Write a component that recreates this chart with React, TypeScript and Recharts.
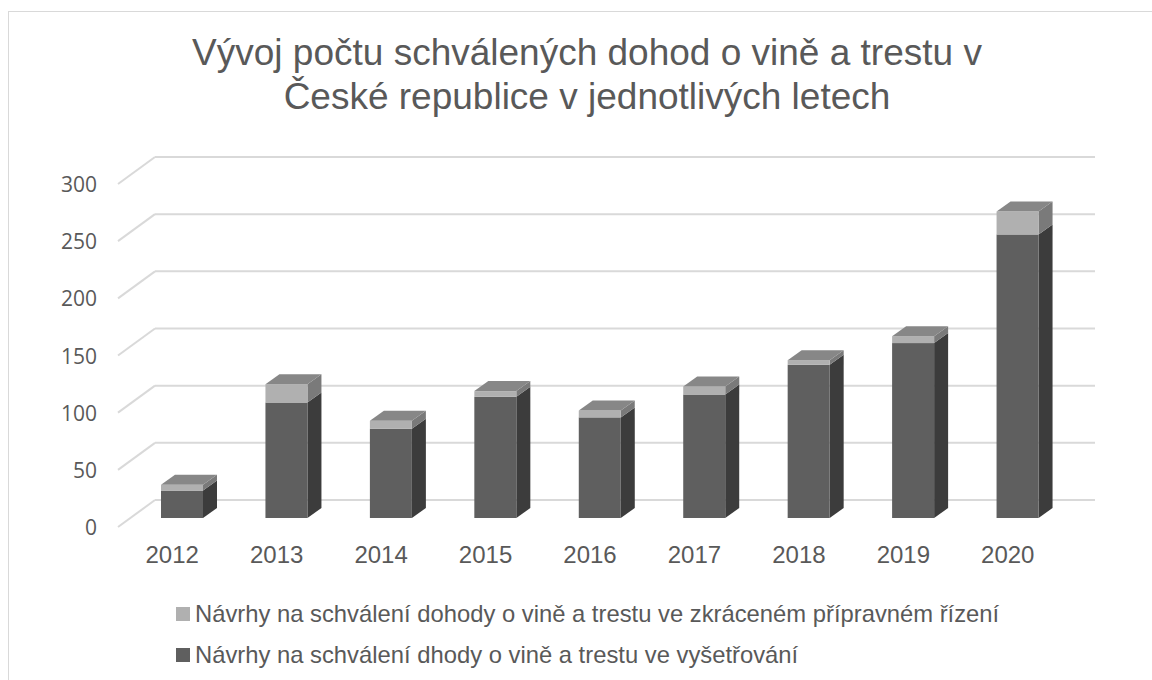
import { BarChart, Bar, XAxis, YAxis, CartesianGrid, Legend } from 'recharts'

const years = ['2012', '2013', '2014', '2015', '2016', '2017', '2018', '2019', '2020']
// návrhy ve vyšetřování (tmavá část)
const investigation = [24, 101, 78, 106, 88, 108, 134, 153, 248]
// návrhy ve zkráceném přípravném řízení (světlá část)
const shortened = [5, 16, 7, 5, 6, 7, 4, 6, 20]
const yTicks = [0, 50, 100, 150, 200, 250, 300]

const seriesNames = {
  shortened: 'Návrhy na schválení dohody o vině a trestu ve zkráceném přípravném řízení',
  investigation: 'Návrhy na schválení dhody o vině a trestu ve vyšetřování',
}

const data = years.map((year, i) => ({
  year,
  investigation: investigation[i],
  shortened: shortened[i],
}))

const FONT = '"Liberation Sans", Arial, sans-serif'
const TEXT = '#595959'
const GRID = '#d9d9d9'

// hloubka sloupce a posun zadní stěny / přední roviny
const DX = 14
const DY = -10
const BACK_DX = 25
const BACK_DY = -18
const FRONT_DX = -12
const FRONT_DY = 9

function makeBox(front: string, side: string, top: boolean) {
  return (props: any) => {
    const { x, y, width, height } = props
    if (!height || height <= 0) return <g />
    return (
      <g>
        <polygon
          points={`${x + width},${y} ${x + width + DX},${y + DY} ${x + width + DX},${y + height + DY} ${x + width},${y + height}`}
          fill={side}
        />
        <rect x={x} y={y} width={width} height={height} fill={front} />
        {top && (
          <polygon
            points={`${x},${y} ${x + DX},${y + DY} ${x + width + DX},${y + DY} ${x + width},${y}`}
            fill="#878787"
          />
        )}
      </g>
    )
  }
}

function GridLine(props: any) {
  const { x1, x2, y1 } = props
  return (
    <g key={props.key}>
      <line x1={x1 + FRONT_DX} y1={y1 + FRONT_DY} x2={x1 + BACK_DX} y2={y1 + BACK_DY} stroke={GRID} strokeWidth={2} />
      <line x1={x1 + BACK_DX} y1={y1 + BACK_DY} x2={x2 + BACK_DX} y2={y1 + BACK_DY} stroke={GRID} strokeWidth={2} />
    </g>
  )
}

function YTick(props: any) {
  const { x, y, payload } = props
  return (
    <text x={x - 33} y={y + FRONT_DY} textAnchor="end" dominantBaseline="central" fill={TEXT}
      style={{ fontFamily: '"Open Sans", sans-serif', fontSize: 21 }}>
      {payload.value}
    </text>
  )
}

function XTick(props: any) {
  const { x, y, payload } = props
  return (
    <text x={x - 10} y={y + 45} textAnchor="middle" fill={TEXT} style={{ fontFamily: FONT, fontSize: 24 }}>
      {payload.value}
    </text>
  )
}

function LegendContent() {
  const rows = [
    { color: '#b0b0b0', label: seriesNames.shortened },
    { color: '#5f5f5f', label: seriesNames.investigation },
  ]
  return (
    <div>
      {rows.map((r) => (
        <div key={r.label} style={{ position: 'relative', height: 41 }}>
          <div style={{ position: 'absolute', left: 0, top: 14, width: 14, height: 14, background: r.color }} />
          <div style={{ position: 'absolute', left: 19, top: 0, lineHeight: '41px', fontFamily: FONT, fontSize: 23.8, color: TEXT, whiteSpace: 'nowrap' }}>
            {r.label}
          </div>
        </div>
      ))}
    </div>
  )
}

export default function App() {
  return (
    <div style={{ position: 'absolute', left: 0, top: 0, width: 1152, height: 680, background: '#fff', overflow: 'hidden' }}>
      <div style={{ position: 'absolute', left: 8, top: 11, width: 1150, height: 700, border: `1px solid ${GRID}` }} />
      <div
        style={{
          position: 'absolute', left: 87, top: 31, width: 1000, textAlign: 'center',
          fontFamily: FONT, fontSize: 37, lineHeight: '44px', color: TEXT,
        }}
      >
        Vývoj počtu schválených dohod o vině a trestu v
        <br />
        České republice v jednotlivých letech
      </div>
      <div style={{ position: 'absolute', left: 0, top: 0 }}>
        <BarChart width={1152} height={680} data={data} margin={{ top: 175, right: 82, bottom: 132, left: 70 }} barSize={42}>
          <CartesianGrid vertical={false} horizontal={GridLine} />
          <XAxis dataKey="year" height={30} axisLine={false} tickLine={false} tickSize={0} tickMargin={0} tick={<XTick />} interval={0} />
          <YAxis width={60} domain={[0, 300]} ticks={yTicks} axisLine={false} tickLine={false} tickSize={0} tickMargin={0} tick={<YTick />} />
          <Legend
            layout="horizontal"
            verticalAlign="middle"
            align="center"
            wrapperStyle={{ left: 176, top: 593, width: 950 }}
            content={<LegendContent />}
          />
          <Bar dataKey="investigation" stackId="a" name={seriesNames.investigation} fill="#5f5f5f"
            shape={makeBox('#5f5f5f', '#3c3c3c', false)} isAnimationActive={false} />
          <Bar dataKey="shortened" stackId="a" name={seriesNames.shortened} fill="#b0b0b0"
            shape={makeBox('#b0b0b0', '#7a7a7a', true)} isAnimationActive={false} />
        </BarChart>
      </div>
    </div>
  )
}
